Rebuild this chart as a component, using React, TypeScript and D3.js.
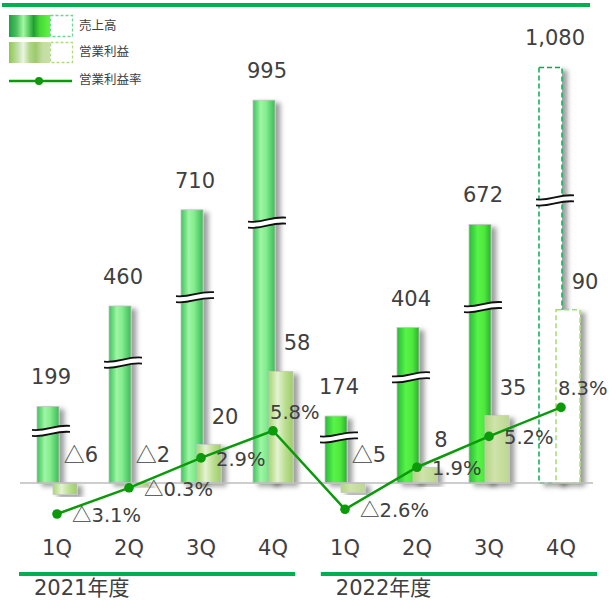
import React from 'react';
import * as d3 from 'd3';

// Quarterly results, fiscal 2021–2022 (4Q 2022 is a forecast)
const categories = ['1Q', '2Q', '3Q', '4Q', '1Q', '2Q', '3Q', '4Q'];
const fiscalYears = ['2021年度', '2022年度'];
const yearOfCategory = [0, 0, 0, 0, 1, 1, 1, 1];
const sales = [199, 460, 710, 995, 174, 404, 672, 1080];
const operatingProfit = [-6, -2, 20, 58, -5, 8, 35, 90];
const profitMargin = [-3.1, -0.3, 2.9, 5.8, -2.6, 1.9, 5.2, 8.3];
const isForecast = [false, false, false, false, false, false, false, true];
const legendLabels = ['売上高', '営業利益', '営業利益率'];

const W = 609;
const H = 600;
const BASE = 483;
const TEXT = '#404040';
const GREEN = '#00b050';
const LINE_GREEN = '#0a9a0a';
const FONT = '"DejaVu Sans", "Noto Sans CJK JP", sans-serif';
const CJK = '"Noto Sans CJK JP", sans-serif';

const x = d3.scaleBand<number>().domain(d3.range(categories.length)).range([21, 597]);
const yearBand = d3.scaleBand<string>().domain(fiscalYears).range([19, 597]).paddingInner(0.085);
const ySales = d3.scaleLinear().domain([0, 1250]).range([BASE, 2]);
const yProfit = d3.scaleLinear().domain([0, 250]).range([BASE, 2]);
const yRate = d3.scaleLinear().domain([0, 10]).range([485, 391.5]);

const fmtSales = d3.format(',');

// negative values are written with a leading "△"
function Signed({ v, suffix = '', digits = 0 }: { v: number; suffix?: string; digits?: number }) {
  const body = Math.abs(v).toFixed(digits) + suffix;
  return v < 0 ? (
    <>
      <tspan fontFamily={CJK}>△</tspan>
      <tspan>{body}</tspan>
    </>
  ) : (
    <>{body}</>
  );
}

const center = (i: number) => (x(i) as number) + x.bandwidth() / 2;

// wavy "≈" mark used to show a broken (compressed) bar
function breakPath(x0: number, x1: number, y: number) {
  const w = x1 - x0;
  return `M${x0},${y + 2} C${x0 + w * 0.4},${y + 3.5} ${x0 + w * 0.6},${y - 3.5} ${x1},${y - 2}`;
}

function BreakMark({ x0, x1, y }: { x0: number; x1: number; y: number }) {
  return (
    <g fill="none">
      <path d={breakPath(x0, x1, y)} stroke="#fff" strokeWidth={6} />
      <path d={breakPath(x0, x1, y - 3)} stroke="#111" strokeWidth={1.8} />
      <path d={breakPath(x0, x1, y + 3)} stroke="#111" strokeWidth={1.8} />
    </g>
  );
}

export default function App() {
  const line = d3
    .line<number>()
    .x((_, i) => center(i))
    .y((d) => yRate(d));

  return (
    <svg
      width={W}
      height={H}
      viewBox={`0 0 ${W} ${H}`}
      style={{ position: 'fixed', left: 0, top: 0, background: '#fff' }}
      fontFamily={FONT}
    >
      <defs>
        <linearGradient id="sales2021" x1="0" x2="1" y1="0" y2="0">
          <stop offset="0" stopColor="#3fc05c" />
          <stop offset="0.35" stopColor="#9ef6a4" />
          <stop offset="0.6" stopColor="#84ec8e" />
          <stop offset="1" stopColor="#3cbb58" />
        </linearGradient>
        <linearGradient id="sales2022" x1="0" x2="1" y1="0" y2="0">
          <stop offset="0" stopColor="#2bb83c" />
          <stop offset="0.4" stopColor="#58f448" />
          <stop offset="0.7" stopColor="#4ee83c" />
          <stop offset="1" stopColor="#2aae32" />
        </linearGradient>
        <linearGradient id="profit2021" x1="0" x2="1" y1="0" y2="0">
          <stop offset="0" stopColor="#a9d66f" />
          <stop offset="0.35" stopColor="#e4f2d3" />
          <stop offset="0.7" stopColor="#b8dd8c" />
          <stop offset="1" stopColor="#9fcd6a" />
        </linearGradient>
        <linearGradient id="profit2022" x1="0" x2="1" y1="0" y2="0">
          <stop offset="0" stopColor="#b4d486" />
          <stop offset="0.4" stopColor="#cfe3aa" />
          <stop offset="1" stopColor="#bcd890" />
        </linearGradient>
        <linearGradient id="legendSales" x1="0" x2="1" y1="0" y2="0">
          <stop offset="0" stopColor="#1f9f40" />
          <stop offset="0.18" stopColor="#4cbf5e" />
          <stop offset="0.35" stopColor="#a2f8a2" />
          <stop offset="0.48" stopColor="#5ccf62" />
          <stop offset="0.6" stopColor="#1f9f32" />
          <stop offset="0.75" stopColor="#46d838" />
          <stop offset="1" stopColor="#62f442" />
        </linearGradient>
        <linearGradient id="legendProfit" x1="0" x2="1" y1="0" y2="0">
          <stop offset="0" stopColor="#8fc74f" />
          <stop offset="0.2" stopColor="#bcdea0" />
          <stop offset="0.35" stopColor="#eaf5e2" />
          <stop offset="0.5" stopColor="#b0d888" />
          <stop offset="0.65" stopColor="#9fc96e" />
          <stop offset="0.82" stopColor="#c2dda2" />
          <stop offset="1" stopColor="#c8e0aa" />
        </linearGradient>
        <filter id="shadow" x="-30%" y="-10%" width="180%" height="130%">
          <feDropShadow dx={5} dy={3} stdDeviation={2.4} floodColor="#000" floodOpacity={0.38} />
        </filter>
      </defs>

      {/* top rule */}
      <line x1={2} x2={590} y1={5} y2={5} stroke={GREEN} strokeWidth={4} />

      {/* legend */}
      <g>
        <rect x={9} y={15} width={41} height={22} fill="url(#legendSales)" />
        <rect x={50.5} y={15.5} width={22} height={21} fill="none" stroke="#6fd496" strokeWidth={1.3} strokeDasharray="3,2" />
        <rect x={9} y={42} width={41} height={21} fill="url(#legendProfit)" />
        <rect x={50.5} y={42.5} width={22} height={20} fill="none" stroke="#b0dc80" strokeWidth={1.3} strokeDasharray="3,2" />
        <line x1={9} x2={72} y1={81} y2={81} stroke={LINE_GREEN} strokeWidth={2.5} />
        <circle cx={39} cy={81} r={4} fill={LINE_GREEN} />
        {legendLabels.map((t, i) => (
          <text key={t} x={79} y={[26, 52, 80][i]} dy="0.35em" fontSize={12.5} fill={TEXT}>
            {t}
          </text>
        ))}
      </g>

      {/* sales bars */}
      {sales.map((v, i) => {
        const c = center(i);
        const y = ySales(v);
        return isForecast[i] ? (
          <rect key={`s${i}`} x={c - 22} y={y} width={23} height={BASE - y} fill="#fff" stroke={GREEN}
            strokeWidth={1.5} strokeDasharray="5,3" filter="url(#shadow)" />
        ) : (
          <rect key={`s${i}`} x={c - 20} y={y} width={22} height={BASE - y}
            fill={`url(#sales${yearOfCategory[i] === 0 ? '2021' : '2022'})`} stroke="#c4c4c4" strokeWidth={0.8}
            filter="url(#shadow)" />
        );
      })}

      {/* operating profit bars */}
      {operatingProfit.map((v, i) => {
        const c = center(i);
        const y0 = yProfit(Math.max(0, v));
        const y1 = yProfit(Math.min(0, v));
        return isForecast[i] ? (
          <rect key={`p${i}`} x={c - 5} y={y0} width={24} height={y1 - y0} fill="#fff" stroke="#a6dc6e"
            strokeWidth={1.5} strokeDasharray="5,3" filter="url(#shadow)" />
        ) : (
          <rect key={`p${i}`} x={c - 4} y={y0} width={24} height={y1 - y0}
            fill={`url(#profit${yearOfCategory[i] === 0 ? '2021' : '2022'})`} stroke="#c8c8c8" strokeWidth={0.8}
            filter="url(#shadow)" />
        );
      })}

      {/* baseline */}
      <line x1={20} x2={593} y1={BASE} y2={BASE} stroke="#bdbdbd" strokeWidth={1.5} />

      {/* axis breaks on the sales bars */}
      {sales.map((v, i) => {
        const c = center(i);
        const top = ySales(v);
        return <BreakMark key={`b${i}`} x0={c - 25} x1={c + 13} y={top + (BASE - top) * 0.32} />;
      })}

      {/* operating margin line */}
      <path d={line(profitMargin) || ''} fill="none" stroke={LINE_GREEN} strokeWidth={2.5} />
      {profitMargin.map((v, i) => (
        <circle key={`d${i}`} cx={center(i)} cy={yRate(v)} r={4.8} fill={LINE_GREEN} />
      ))}

      {/* value labels */}
      <g fontSize={21} fill={TEXT}>
        {sales.map((v, i) => (
          <text key={`sl${i}`} x={center(i) - 6} y={ySales(v) - 22} textAnchor="middle">
            {fmtSales(v)}
          </text>
        ))}
        {operatingProfit.map((v, i) => (
          <text key={`pl${i}`} x={center(i) + 24} y={yProfit(Math.max(0, v)) - 21} textAnchor="middle">
            <Signed v={v} />
          </text>
        ))}
      </g>
      <g fontSize={19.5} fill={TEXT}>
        {profitMargin.map((v, i) => {
          const above = i % 4 === 3;
          return (
            <text key={`rl${i}`} x={center(i) + (above ? -3 : 15)} y={yRate(v) + (above ? -12 : 8)}>
              <Signed v={v} suffix="%" digits={1} />
            </text>
          );
        })}
      </g>

      {/* quarter labels */}
      <g fontSize={21} fill={TEXT}>
        {categories.map((t, i) => (
          <text key={`q${i}`} x={center(i)} y={555} textAnchor="middle">
            {t}
          </text>
        ))}
      </g>

      {/* fiscal year groups */}
      {fiscalYears.map((fy) => {
        const x0 = yearBand(fy) as number;
        return (
          <g key={fy}>
            <line x1={x0} x2={x0 + yearBand.bandwidth()} y1={574} y2={574} stroke={GREEN} strokeWidth={4} />
            <text x={x0 + 15} y={595} fontSize={21} fill={TEXT}>
              {fy}
            </text>
          </g>
        );
      })}
    </svg>
  );
}
